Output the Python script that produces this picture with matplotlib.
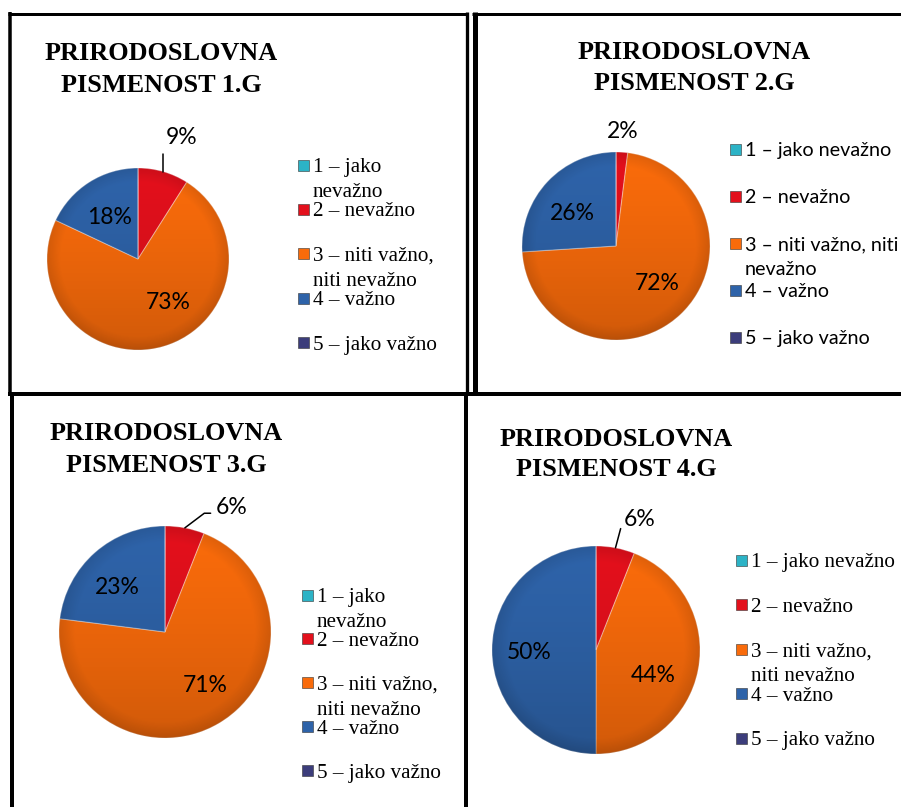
import numpy as np
import matplotlib
matplotlib.use("Agg")
import matplotlib.pyplot as plt
from matplotlib.patches import Rectangle, Circle
from matplotlib.lines import Line2D

# figure size in pixels
W, H = 901, 807

# legend categories and colours (same for every chart)
categories = ["1 – jako nevažno", "2 – nevažno", "3 – niti važno, niti nevažno",
              "4 – važno", "5 – jako važno"]
colors = ["#2CB3C6", "#E3101C", "#F96B0B", "#2E63A9", "#3C3D7B"]

# share of answers (%) per class, order as categories
values_1g = [0, 9, 73, 18, 0]
values_2g = [0, 2, 72, 26, 0]
values_3g = [0, 6, 71, 23, 0]
values_4g = [0, 6, 44, 50, 0]

titles = ["PRIRODOSLOVNA\nPISMENOST 1.G", "PRIRODOSLOVNA\nPISMENOST 2.G",
          "PRIRODOSLOVNA\nPISMENOST 3.G", "PRIRODOSLOVNA\nPISMENOST 4.G"]

# how the legend text wraps in each chart
legend_labels_1 = ["1 – jako\nnevažno", "2 – nevažno", "3 – niti važno,\nniti nevažno",
                   "4 – važno", "5 – jako važno"]
legend_labels_2 = ["1 – jako nevažno", "2 – nevažno", "3 – niti važno, niti\nnevažno",
                   "4 – važno", "5 – jako važno"]
legend_labels_3 = legend_labels_1
legend_labels_4 = ["1 – jako nevažno", "2 – nevažno", "3 – niti važno,\nniti nevažno",
                   "4 – važno", "5 – jako važno"]

SERIF = "Liberation Serif"
SANS = "Lato"

# layout of each panel (pixels): pie centre/radius, title centre, legend
panels = [
    dict(values=values_1g, title=titles[0], cx=138, cy=259, r=91, tx=161, ty=51.5,
         leg_x=303.5, leg_y=165, leg_dy=44.4, leg_font=SERIF, leg_labels=legend_labels_1,
         lab_r=[0, 1.415, 0.58, 0.55, 0], lab_off=[0, -3.7, 18.8, 1.6, 0],
         leader=dict(angleB=90)),
    dict(values=values_2g, title=titles[1], cx=616, cy=246, r=94, tx=694.5, ty=50,
         leg_x=735.5, leg_y=149, leg_dy=47.1, leg_font=SANS, leg_labels=legend_labels_2,
         lab_r=[0, 1.215, 0.59, 0.58, 0], lab_off=[0, 0.4, 4, 7, 0],
         leader=None),
    dict(values=values_3g, title=titles[2], cx=165, cy=632, r=106, tx=166, ty=431.5,
         leg_x=307.5, leg_y=595, leg_dy=43.9, leg_font=SERIF, leg_labels=legend_labels_3,
         lab_r=[0, 1.33, 0.63, 0.62, 0], lab_off=[0, -17.6, 6.4, 5.6, 0],
         leader=dict(angleB=37)),
    dict(values=values_4g, title=titles[3], cx=596, cy=650, r=104, tx=616, ty=436.5,
         leg_x=741.5, leg_y=560, leg_dy=44.6, leg_font=SERIF, leg_labels=legend_labels_4,
         lab_r=[0, 1.32, 0.6, 0.64, 0], lab_off=[0, -7.9, -13, 2, 0],
         leader=dict(angleB=75)),
]

PX = 0.72  # points per pixel at dpi 100
TITLE_GAP = 31   # px between title lines
LEG_GAP = 25     # px between wrapped legend lines

fig = plt.figure(figsize=(W / 100, H / 100), dpi=100)
fig.patch.set_facecolor("white")

# background axes in pixel coordinates for frames, titles and legends
bg = fig.add_axes([0, 0, 1, 1])
bg.set_xlim(0, W)
bg.set_ylim(H, 0)
bg.axis("off")

# panel frames
frame_lines = [
    ((8, 468), (13.5, 13.5), 3), ((472, 901), (13.5, 13.5), 3),
    ((9.8, 9.8), (12, 394), 3.5), ((467.3, 467.3), (12, 394), 3.3),
    ((474.5, 474.5), (12, 394), 5), ((8, 901), (394, 394), 4),
    ((12, 12), (394, 807), 4), ((466, 466), (394, 807), 4),
]
for xs, ys, lw in frame_lines:
    bg.add_line(Line2D(xs, ys, color="black", lw=lw * PX, solid_capstyle="butt"))

# shading overlay used on every pie (darker towards bottom and rim)
yy, xx = np.mgrid[1:-1:300j, -1:1:300j]
rr = np.sqrt(xx ** 2 + yy ** 2)
alpha = 0.16 * ((1 - yy) / 2) ** 1.3 + 0.10 * np.clip((rr - 0.85) / 0.15, 0, 1)
shade = np.zeros((300, 300, 4))
shade[..., 3] = np.clip(alpha, 0, 1)

for p in panels:
    cx, cy, r = p["cx"], p["cy"], p["r"]
    ax = fig.add_axes([(cx - r) / W, 1 - (cy + r) / H, 2 * r / W, 2 * r / H])
    wedges, _ = ax.pie(p["values"], colors=colors, startangle=90, counterclock=False,
                       radius=1, wedgeprops=dict(edgecolor=(1, 1, 1, 0.35), linewidth=0.8))
    ax.set_xlim(-1, 1)
    ax.set_ylim(-1, 1)
    ax.set_aspect("equal")
    ax.axis("off")
    im = ax.imshow(shade, extent=(-1, 1, -1, 1), zorder=3, interpolation="bilinear")
    clip = Circle((0, 0), 1, transform=ax.transData)
    im.set_clip_path(clip)

    # percentage labels from the wedge angles
    for i, (w, v) in enumerate(zip(wedges, p["values"])):
        if v == 0:
            continue
        mid = (w.theta1 + w.theta2) / 2
        ang = np.deg2rad(mid + p["lab_off"][i])
        lr = p["lab_r"][i]
        pos = (lr * np.cos(ang), lr * np.sin(ang))
        kw = dict(ha="center", va="center", fontsize=16.5, family=SANS, color="black", zorder=5)
        if lr > 1 and p["leader"] is not None:
            edge = (np.cos(np.deg2rad(mid)), np.sin(np.deg2rad(mid)))
            ax.annotate(f"{v}%", xy=edge, xytext=pos, annotation_clip=False,
                        arrowprops=dict(arrowstyle="-", color="black", lw=1.1,
                                        shrinkA=2, shrinkB=0, relpos=(0, 0.25),
                                        connectionstyle="angle,angleA=0,angleB=%g,rad=0"
                                        % p["leader"]["angleB"]), **kw)
        else:
            ax.text(pos[0], pos[1], f"{v}%", **kw)

    # title, one text per line
    for j, line in enumerate(p["title"].split("\n")):
        bg.text(p["tx"], p["ty"] + j * TITLE_GAP, line, ha="center", va="center_baseline",
                fontsize=18.9, fontweight="bold", family=SERIF)

    # legend: evenly spaced entries, wrapped labels overflow downwards
    fs = 14.2 if p["leg_font"] == SANS else 15.2
    for i, lab in enumerate(p["leg_labels"]):
        y = p["leg_y"] + i * p["leg_dy"]
        bg.add_patch(Rectangle((p["leg_x"] - 5.5, y - 5.5), 11, 11, facecolor=colors[i],
                               edgecolor="#333333", lw=0.4))
        for j, line in enumerate(lab.split("\n")):
            bg.text(p["leg_x"] + 9.5, y + j * LEG_GAP, line, ha="left",
                    va="center_baseline", fontsize=fs, family=p["leg_font"])

fig.savefig("out.png", dpi=100, facecolor="white")
